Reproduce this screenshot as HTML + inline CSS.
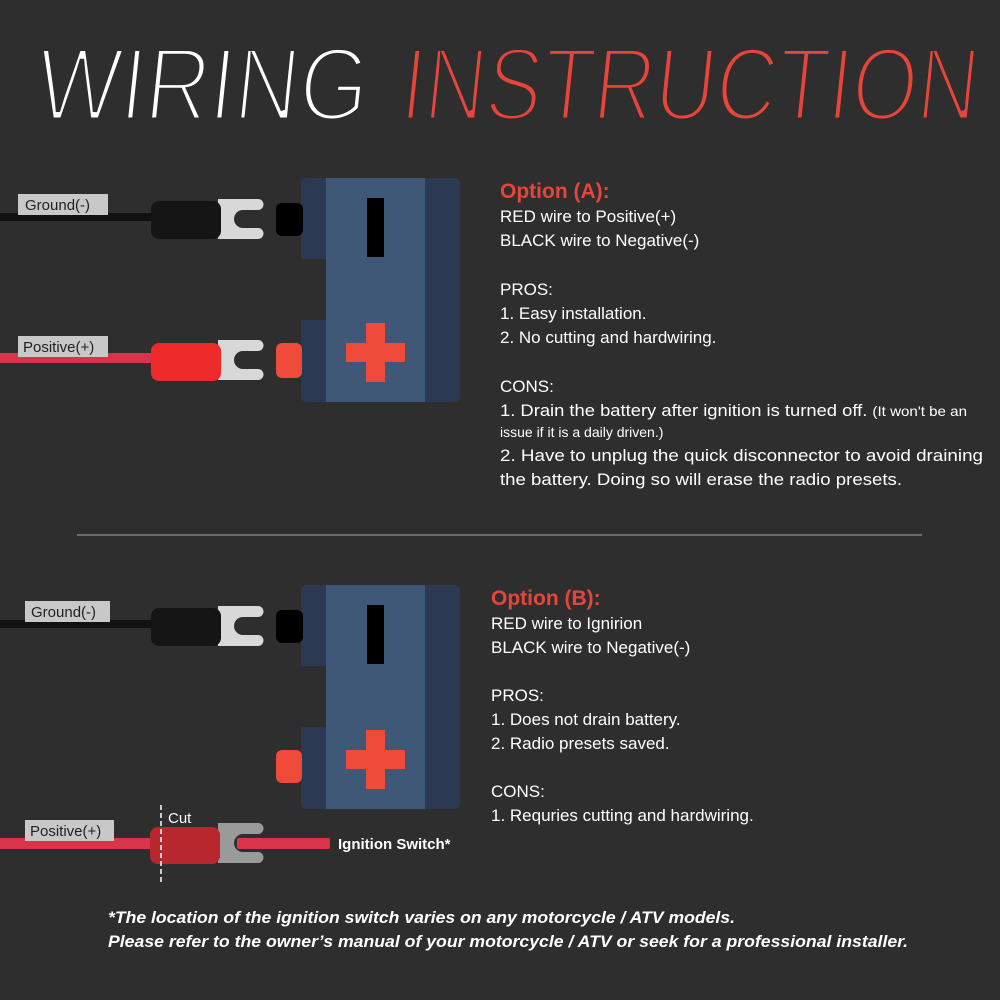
<!DOCTYPE html>
<html><head><meta charset="utf-8"><style>
html,body{margin:0;padding:0;background:#2e2e2e;}
svg{display:block;}
text{font-family:"Liberation Sans",sans-serif;}
</style></head><body>
<svg width="1000" height="1000" viewBox="0 0 1000 1000" xmlns="http://www.w3.org/2000/svg">
<rect width="1000" height="1000" fill="#2e2e2e"/>
<!-- Title -->
<g transform="skewX(-6)" stroke="#2e2e2e" stroke-width="5">
<text x="46" y="120" font-size="104" fill="#ffffff" textLength="332" lengthAdjust="spacingAndGlyphs">WIRING</text>
<text x="411" y="120" font-size="104" fill="#e8453a" textLength="577" lengthAdjust="spacingAndGlyphs">INSTRUCTION</text>
</g>

<defs>
<g id="battery">
  <rect x="301" y="178" width="159" height="224" rx="5" fill="#2b3a52"/>
  <rect x="326" y="178" width="99" height="224" fill="#3f5878"/>
  <rect x="301" y="259" width="25" height="61" fill="#2e2e2e"/>
  <rect x="367" y="198" width="17" height="59" fill="#000"/>
  <rect x="346" y="343" width="59" height="19" fill="#f04a3a"/>
  <rect x="366" y="323" width="19" height="59" fill="#f04a3a"/>
  <rect x="276" y="203" width="27" height="33" rx="6" fill="#000"/>
</g>
<g id="spade">
  <path d="M218,199 H258 a5,5 0 0 1 0,11 H243 a9,9 0 0 0 0,18 H258 a5,5 0 0 1 0,11 H218 Z" fill="#d8d8d8"/>
</g>
</defs>

<!-- Option A diagram -->
<use href="#battery"/>
<rect x="276" y="343" width="26" height="35" rx="6" fill="#f04a3a"/>
<rect x="0" y="213" width="165" height="8" fill="#111"/>
<use href="#spade"/>
<rect x="151" y="201" width="70" height="38" rx="8" fill="#151515"/>
<rect x="18" y="194" width="90" height="21" fill="#c8c8c8"/>
<text x="25" y="210" font-size="15" fill="#222">Ground(-)</text>
<rect x="0" y="353" width="165" height="10" fill="#d9344a"/>
<use href="#spade" transform="translate(0,141)"/>
<rect x="151" y="343" width="70" height="38" rx="8" fill="#ee2a2a"/>
<rect x="18" y="336" width="90" height="21" fill="#c8c8c8"/>
<text x="23" y="352" font-size="15" fill="#222">Positive(+)</text>

<!-- Option A text -->
<g font-size="17" fill="#ffffff">
<text x="500" y="198" font-size="21" font-weight="bold" fill="#e8453a">Option (A):</text>
<text x="500" y="222">RED  wire to Positive(+)</text>
<text x="500" y="246">BLACK wire to Negative(-)</text>
<text x="500" y="295">PROS:</text>
<text x="500" y="319">1. Easy installation.</text>
<text x="500" y="343">2. No cutting and hardwiring.</text>
<text x="500" y="392">CONS:</text>
<text x="500" y="416" textLength="467" lengthAdjust="spacingAndGlyphs">1. Drain the battery after ignition is turned off. <tspan font-size="14">(It won't be an</tspan></text>
<text x="500" y="437" font-size="14">issue if it is a daily driven.)</text>
<text x="500" y="461" textLength="483" lengthAdjust="spacingAndGlyphs">2. Have to unplug the quick disconnector to avoid draining</text>
<text x="500" y="485" textLength="402" lengthAdjust="spacingAndGlyphs">the battery. Doing so will erase the radio presets.</text>
</g>

<line x1="77" y1="535" x2="922" y2="535" stroke="#aaaaaa" stroke-width="1"/>

<!-- Option B diagram -->
<use href="#battery" transform="translate(0,407)"/>
<rect x="276" y="750" width="26" height="33" rx="6" fill="#f04a3a"/>
<rect x="0" y="620" width="165" height="8" fill="#111"/>
<use href="#spade" transform="translate(0,407)"/>
<rect x="151" y="608" width="70" height="38" rx="8" fill="#151515"/>
<rect x="25" y="601" width="85" height="21" fill="#c8c8c8"/>
<text x="31" y="617" font-size="15" fill="#222">Ground(-)</text>

<rect x="0" y="838" width="160" height="11" fill="#d9344a"/>
<path d="M218,823 H258 a5,5 0 0 1 0,11 H243 a9,9 0 0 0 0,18 H258 a5,5 0 0 1 0,11 H218 Z" fill="#9a9a9a"/>
<rect x="237" y="838" width="93" height="11" rx="2" fill="#d9344a"/>
<rect x="150" y="827" width="70" height="37" rx="8" fill="#b8272d"/>
<rect x="25" y="820" width="89" height="21" fill="#c8c8c8"/>
<text x="30" y="836" font-size="15" fill="#222">Positive(+)</text>
<line x1="161" y1="805" x2="161" y2="885" stroke="#ffffff" stroke-width="1.5" stroke-dasharray="5,3"/>
<text x="168" y="823" font-size="15" fill="#ffffff">Cut</text>
<text x="338" y="849" font-size="15" font-weight="bold" fill="#ffffff">Ignition Switch*</text>

<!-- Option B text -->
<g font-size="17" fill="#ffffff">
<text x="491" y="605" font-size="21" font-weight="bold" fill="#e8453a">Option (B):</text>
<text x="491" y="629">RED wire to Ignirion</text>
<text x="491" y="653">BLACK wire to Negative(-)</text>
<text x="491" y="701">PROS:</text>
<text x="491" y="725">1. Does not drain battery.</text>
<text x="491" y="749">2. Radio presets saved.</text>
<text x="491" y="797">CONS:</text>
<text x="491" y="821">1. Requries cutting and hardwiring.</text>
</g>

<!-- Footer -->
<g font-size="17" font-weight="bold" font-style="italic" fill="#ffffff">
<text x="108" y="923" textLength="627" lengthAdjust="spacingAndGlyphs">*The location of the ignition switch varies on any motorcycle / ATV models.</text>
<text x="108" y="947" textLength="800" lengthAdjust="spacingAndGlyphs">Please refer to the owner’s manual of your motorcycle / ATV or seek for a professional installer.</text>
</g>
</svg>
</body></html>
